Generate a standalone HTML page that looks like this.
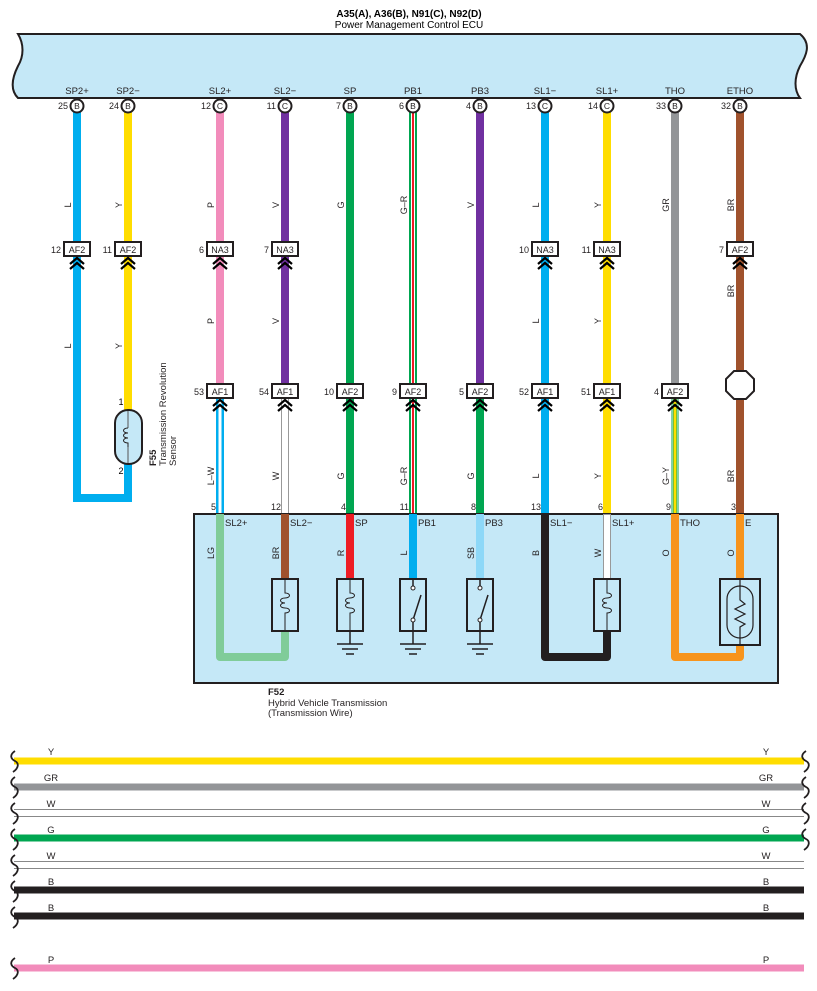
<!DOCTYPE html>
<html><head><meta charset="utf-8"><style>
html,body{margin:0;padding:0;background:#fff;}
svg{display:block;font-family:"Liberation Sans",sans-serif;}
</style></head><body>
<svg width="817" height="991" viewBox="0 0 817 991" xmlns="http://www.w3.org/2000/svg">
<defs>
<g id="chev"><polyline points="-7,7 0,1 7,7" fill="none" stroke="#000" stroke-width="2.2"/><polyline points="-7,12 0,6 7,12" fill="none" stroke="#000" stroke-width="2.2"/></g>
</defs>
<!-- title -->
<text x="409" y="17" font-size="10" font-weight="bold" text-anchor="middle">A35(A), A36(B), N91(C), N92(D)</text>
<text x="409" y="28" font-size="10" text-anchor="middle">Power Management Control ECU</text>
<!-- ECU box -->
<path d="M18,34 L800,34 C812,44 806,56 800,66 C794,78 794,90 800,98 L18,98 C10,90 12,78 18,66 C24,56 24,44 18,34 Z" fill="#c5e8f7" stroke="#231f20" stroke-width="2"/>
<g font-size="9.5" text-anchor="middle" fill="#231f20">
<text x="77" y="94">SP2+</text><text x="128" y="94">SP2−</text><text x="220" y="94">SL2+</text><text x="285" y="94">SL2−</text><text x="350" y="94">SP</text><text x="413" y="94">PB1</text><text x="480" y="94">PB3</text><text x="545" y="94">SL1−</text><text x="607" y="94">SL1+</text><text x="675" y="94">THO</text><text x="740" y="94">ETHO</text>
</g>
<!-- wires ECU -> row1 / row2 -->
<g stroke-width="8" fill="none">
<path d="M77,110 V498 H128 V464" stroke="#00aeef"/>
<path d="M128,110 V410" stroke="#ffdd00"/>
<path d="M220,110 V386" stroke="#f28cbb"/>
<path d="M285,110 V386" stroke="#7030a0"/>
<path d="M350,110 V513" stroke="#00a651"/>
<path d="M480,110 V386" stroke="#7030a0"/>
<path d="M480,398 V513" stroke="#00a651"/>
<path d="M545,110 V513" stroke="#00aeef"/>
<path d="M607,110 V513" stroke="#ffdd00"/>
<path d="M675,110 V386" stroke="#939598"/>
<path d="M740,110 V513" stroke="#a0522d"/>
</g>
<!-- PB1 G-R striped -->
<path d="M413,110 V513" stroke="#00a651" stroke-width="8"/>
<path d="M413,110 V513" stroke="#fff" stroke-width="4"/>
<path d="M413,110 V513" stroke="#ed1c24" stroke-width="2"/>
<!-- SL2+ L-W -->
<path d="M220,398 V513" stroke="#00aeef" stroke-width="8"/>
<path d="M220,398 V513" stroke="#fff" stroke-width="3"/>
<!-- SL2- W -->
<path d="M285,398 V513" stroke="#999" stroke-width="8"/>
<path d="M285,398 V513" stroke="#fff" stroke-width="6"/>
<!-- THO G-Y -->
<path d="M675,398 V513" stroke="#00a651" stroke-width="8"/>
<path d="M675,398 V513" stroke="#ffdd00" stroke-width="3"/>
<path d="M672,398 V513 M678,398 V513" stroke="#fff" stroke-width="1"/>
<!-- pin circles -->
<g fill="#fff" stroke="#231f20" stroke-width="2">
<circle cx="77" cy="106" r="6.5"/><circle cx="128" cy="106" r="6.5"/><circle cx="220" cy="106" r="6.5"/><circle cx="285" cy="106" r="6.5"/><circle cx="350" cy="106" r="6.5"/><circle cx="413" cy="106" r="6.5"/><circle cx="480" cy="106" r="6.5"/><circle cx="545" cy="106" r="6.5"/><circle cx="607" cy="106" r="6.5"/><circle cx="675" cy="106" r="6.5"/><circle cx="740" cy="106" r="6.5"/>
</g>
<g font-size="8.5" text-anchor="middle" fill="#231f20">
<text x="77" y="109">B</text><text x="128" y="109">B</text><text x="220" y="109">C</text><text x="285" y="109">C</text><text x="350" y="109">B</text><text x="413" y="109">B</text><text x="480" y="109">B</text><text x="545" y="109">C</text><text x="607" y="109">C</text><text x="675" y="109">B</text><text x="740" y="109">B</text>
</g>
<g font-size="9" text-anchor="end" fill="#231f20">
<text x="68" y="109">25</text><text x="119" y="109">24</text><text x="211" y="109">12</text><text x="276" y="109">11</text><text x="341" y="109">7</text><text x="404" y="109">6</text><text x="471" y="109">4</text><text x="536" y="109">13</text><text x="598" y="109">14</text><text x="666" y="109">33</text><text x="731" y="109">32</text>
</g>
<!-- row1 connectors -->
<g fill="#fff" stroke="#231f20" stroke-width="2">
<rect x="64" y="242" width="26" height="14"/><rect x="115" y="242" width="26" height="14"/><rect x="207" y="242" width="26" height="14"/><rect x="272" y="242" width="26" height="14"/><rect x="532" y="242" width="26" height="14"/><rect x="594" y="242" width="26" height="14"/><rect x="727" y="242" width="26" height="14"/>
</g>
<g font-size="9" text-anchor="middle" fill="#231f20">
<text x="77" y="253">AF2</text><text x="128" y="253">AF2</text><text x="220" y="253">NA3</text><text x="285" y="253">NA3</text><text x="545" y="253">NA3</text><text x="607" y="253">NA3</text><text x="740" y="253">AF2</text>
</g>
<g font-size="9" text-anchor="end" fill="#231f20">
<text x="61" y="253">12</text><text x="112" y="253">11</text><text x="204" y="253">6</text><text x="269" y="253">7</text><text x="529" y="253">10</text><text x="591" y="253">11</text><text x="724" y="253">7</text>
</g>
<use href="#chev" x="77" y="257"/><use href="#chev" x="128" y="257"/><use href="#chev" x="220" y="257"/><use href="#chev" x="285" y="257"/><use href="#chev" x="545" y="257"/><use href="#chev" x="607" y="257"/><use href="#chev" x="740" y="257"/>
<!-- row2 connectors -->
<g fill="#fff" stroke="#231f20" stroke-width="2">
<rect x="207" y="384" width="26" height="14"/><rect x="272" y="384" width="26" height="14"/><rect x="337" y="384" width="26" height="14"/><rect x="400" y="384" width="26" height="14"/><rect x="467" y="384" width="26" height="14"/><rect x="532" y="384" width="26" height="14"/><rect x="594" y="384" width="26" height="14"/><rect x="662" y="384" width="26" height="14"/>
</g>
<g font-size="9" text-anchor="middle" fill="#231f20">
<text x="220" y="395">AF1</text><text x="285" y="395">AF1</text><text x="350" y="395">AF2</text><text x="413" y="395">AF2</text><text x="480" y="395">AF2</text><text x="545" y="395">AF1</text><text x="607" y="395">AF1</text><text x="675" y="395">AF2</text>
</g>
<g font-size="9" text-anchor="end" fill="#231f20">
<text x="204" y="395">53</text><text x="269" y="395">54</text><text x="334" y="395">10</text><text x="397" y="395">9</text><text x="464" y="395">5</text><text x="529" y="395">52</text><text x="591" y="395">51</text><text x="659" y="395">4</text>
</g>
<use href="#chev" x="220" y="399"/><use href="#chev" x="285" y="399"/><use href="#chev" x="350" y="399"/><use href="#chev" x="413" y="399"/><use href="#chev" x="480" y="399"/><use href="#chev" x="545" y="399"/><use href="#chev" x="607" y="399"/><use href="#chev" x="675" y="399"/>
<!-- ETHO octagon -->
<polygon points="734,371 746,371 754,379 754,391 746,399 734,399 726,391 726,379" fill="#fff" stroke="#231f20" stroke-width="2"/>
<!-- F55 sensor -->
<rect x="115" y="410" width="27" height="54" rx="13" fill="#c5e8f7" stroke="#231f20" stroke-width="2"/>
<path d="M128,411 V428 M128,447 V463" stroke="#555" stroke-width="1"/>
<path d="M128,428 c-6,0 -6,5 0,5 c-6,0 -6,5 0,5 c-6,0 -6,5 0,5 c0,0 0,4 0,4" fill="none" stroke="#231f20" stroke-width="1"/>
<text x="121" y="405" font-size="9" text-anchor="middle">1</text>
<text x="121" y="474" font-size="9" text-anchor="middle">2</text>
<g font-size="9.5" fill="#231f20">
<text transform="translate(156,466) rotate(-90)" font-weight="bold">F55</text>
<text transform="translate(166,466) rotate(-90)">Transmission Revolution</text>
<text transform="translate(176,466) rotate(-90)">Sensor</text>
</g>
<!-- wire labels -->
<g font-size="9" text-anchor="middle" fill="#231f20">
<text transform="translate(71,205) rotate(-90)">L</text><text transform="translate(122,205) rotate(-90)">Y</text><text transform="translate(214,205) rotate(-90)">P</text><text transform="translate(279,205) rotate(-90)">V</text><text transform="translate(344,205) rotate(-90)">G</text><text transform="translate(407,205) rotate(-90)">G–R</text><text transform="translate(474,205) rotate(-90)">V</text><text transform="translate(539,205) rotate(-90)">L</text><text transform="translate(601,205) rotate(-90)">Y</text><text transform="translate(669,205) rotate(-90)">GR</text><text transform="translate(734,205) rotate(-90)">BR</text>
<text transform="translate(71,346) rotate(-90)">L</text><text transform="translate(122,346) rotate(-90)">Y</text><text transform="translate(214,321) rotate(-90)">P</text><text transform="translate(279,321) rotate(-90)">V</text><text transform="translate(539,321) rotate(-90)">L</text><text transform="translate(601,321) rotate(-90)">Y</text><text transform="translate(734,291) rotate(-90)">BR</text>
<text transform="translate(214,476) rotate(-90)">L–W</text><text transform="translate(279,476) rotate(-90)">W</text><text transform="translate(344,476) rotate(-90)">G</text><text transform="translate(407,476) rotate(-90)">G–R</text><text transform="translate(474,476) rotate(-90)">G</text><text transform="translate(539,476) rotate(-90)">L</text><text transform="translate(601,476) rotate(-90)">Y</text><text transform="translate(669,476) rotate(-90)">G–Y</text><text transform="translate(734,476) rotate(-90)">BR</text>
</g>
<g font-size="9" text-anchor="end" fill="#231f20">
<text x="216" y="510">5</text><text x="281" y="510">12</text><text x="346" y="510">4</text><text x="409" y="510">11</text><text x="476" y="510">8</text><text x="541" y="510">13</text><text x="603" y="510">6</text><text x="671" y="510">9</text><text x="736" y="510">3</text>
</g>
<!-- F52 box -->
<rect x="194" y="514" width="584" height="169" fill="#c5e8f7" stroke="#231f20" stroke-width="2"/>
<g stroke-width="8" fill="none" stroke-linejoin="round">
<path d="M220,514 V657 H285 V631" stroke="#80cc99"/>
<path d="M285,514 V579" stroke="#a0522d"/>
<path d="M350,514 V579" stroke="#ed1c24"/>
<path d="M413,514 V579" stroke="#00aeef"/>
<path d="M480,514 V579" stroke="#8dd8f8"/>
<path d="M545,514 V657 H607 V631" stroke="#231f20"/>
<path d="M607,514 V579" stroke="#999"/>
<path d="M675,514 V657 H740 V645 M740,514 V579" stroke="#f7941d"/>
</g>
<path d="M607,515 V579" stroke="#fff" stroke-width="6"/>
<g font-size="9.5" fill="#231f20">
<text x="225" y="526">SL2+</text><text x="290" y="526">SL2−</text><text x="355" y="526">SP</text><text x="418" y="526">PB1</text><text x="485" y="526">PB3</text><text x="550" y="526">SL1−</text><text x="612" y="526">SL1+</text><text x="680" y="526">THO</text><text x="745" y="526">E</text>
</g>
<g font-size="9" text-anchor="middle" fill="#231f20">
<text transform="translate(214,553) rotate(-90)">LG</text><text transform="translate(279,553) rotate(-90)">BR</text><text transform="translate(344,553) rotate(-90)">R</text><text transform="translate(407,553) rotate(-90)">L</text><text transform="translate(474,553) rotate(-90)">SB</text><text transform="translate(539,553) rotate(-90)">B</text><text transform="translate(601,553) rotate(-90)">W</text><text transform="translate(669,553) rotate(-90)">O</text><text transform="translate(734,553) rotate(-90)">O</text>
</g>
<!-- coils -->
<g fill="none" stroke="#231f20">
<g id="coil"><rect x="272" y="579" width="26" height="52" fill="#c5e8f7" stroke-width="2"/><path d="M285,580 V593 c6,0 6,5 0,5 c-6,0 -6,5 0,5 c-6,0 -6,5 0,5 c6,0 6,5 0,5 V630" stroke-width="1"/></g>
<use href="#coil" x="65"/>
<use href="#coil" x="322"/>
<path d="M350,631 V644 M337,644 H363 M342,649 H358 M346,654 H354" stroke-width="1.5"/>
<!-- switches -->
<rect x="400" y="579" width="26" height="52" fill="#c5e8f7" stroke-width="2"/>
<path d="M413,580 V586 M413,622 V631 M413,620 L421,595" stroke-width="1.5"/>
<circle cx="413" cy="588" r="2" fill="#fff"/><circle cx="413" cy="620" r="2" fill="#fff"/>
<path d="M413,631 V644 M400,644 H426 M405,649 H421 M409,654 H417" stroke-width="1.5"/>
<rect x="467" y="579" width="26" height="52" fill="#c5e8f7" stroke-width="2"/>
<path d="M480,580 V586 M480,622 V631 M480,620 L488,595" stroke-width="1.5"/>
<circle cx="480" cy="588" r="2" fill="#fff"/><circle cx="480" cy="620" r="2" fill="#fff"/>
<path d="M480,631 V644 M467,644 H493 M472,649 H488 M476,654 H484" stroke-width="1.5"/>
<!-- thermistor -->
<rect x="720" y="579" width="40" height="66" fill="#c5e8f7" stroke-width="2"/>
<rect x="727" y="586" width="26" height="52" rx="13" fill="none" stroke-width="1.2"/>
<path d="M740,580 V600 L745,604 L735,609 L745,614 L735,619 L745,624 L740,627 V644" stroke-width="1.2"/>
</g>
<g font-size="9.5" fill="#231f20">
<text x="268" y="695" font-weight="bold">F52</text>
<text x="268" y="706">Hybrid Vehicle Transmission</text>
<text x="268" y="716">(Transmission Wire)</text>
</g>
<!-- bottom lines -->
<g stroke-width="7">
<path d="M14,761 H804" stroke="#ffdd00"/>
<path d="M14,787 H804" stroke="#939598"/>
<path d="M14,838 H804" stroke="#00a651"/>
<path d="M14,890 H804" stroke="#231f20"/>
<path d="M14,916 H804" stroke="#231f20"/>
<path d="M14,968 H804" stroke="#f28cbb"/>
</g>
<g stroke="#888" stroke-width="1">
<path d="M14,809.5 H804 M14,816.5 H804 M14,861.5 H804 M14,868.5 H804"/>
</g>
<g fill="none" stroke="#231f20" stroke-width="1.8">
<path d="M15,751 c-6,4 -4,8 0,10 c4,2 4,7 -2,11 M15,777 c-6,4 -4,8 0,10 c4,2 4,7 -2,11 M15,803 c-6,4 -4,8 0,10 c4,2 4,7 -2,11 M15,829 c-6,4 -4,8 0,10 c4,2 4,7 -2,11 M15,855 c-6,4 -4,8 0,10 c4,2 4,7 -2,11 M15,881 c-6,4 -4,8 0,10 c4,2 4,7 -2,11 M15,907 c-6,4 -4,8 0,10 c4,2 4,7 -2,11 M15,958 c-6,4 -4,8 0,10 c4,2 4,7 -2,11"/>
<path d="M806,751 c-6,4 -4,8 0,10 c4,2 4,7 -2,11 M806,777 c-6,4 -4,8 0,10 c4,2 4,7 -2,11 M806,803 c-6,4 -4,8 0,10 c4,2 4,7 -2,11 M806,829 c-6,4 -4,8 0,10 c4,2 4,7 -2,11"/>
</g>
<g font-size="9.5" text-anchor="middle" fill="#231f20">
<text x="51" y="755">Y</text><text x="51" y="781">GR</text><text x="51" y="807">W</text><text x="51" y="833">G</text><text x="51" y="859">W</text><text x="51" y="885">B</text><text x="51" y="911">B</text><text x="51" y="963">P</text>
<text x="766" y="755">Y</text><text x="766" y="781">GR</text><text x="766" y="807">W</text><text x="766" y="833">G</text><text x="766" y="859">W</text><text x="766" y="885">B</text><text x="766" y="911">B</text><text x="766" y="963">P</text>
</g>
</svg>
</body></html>
